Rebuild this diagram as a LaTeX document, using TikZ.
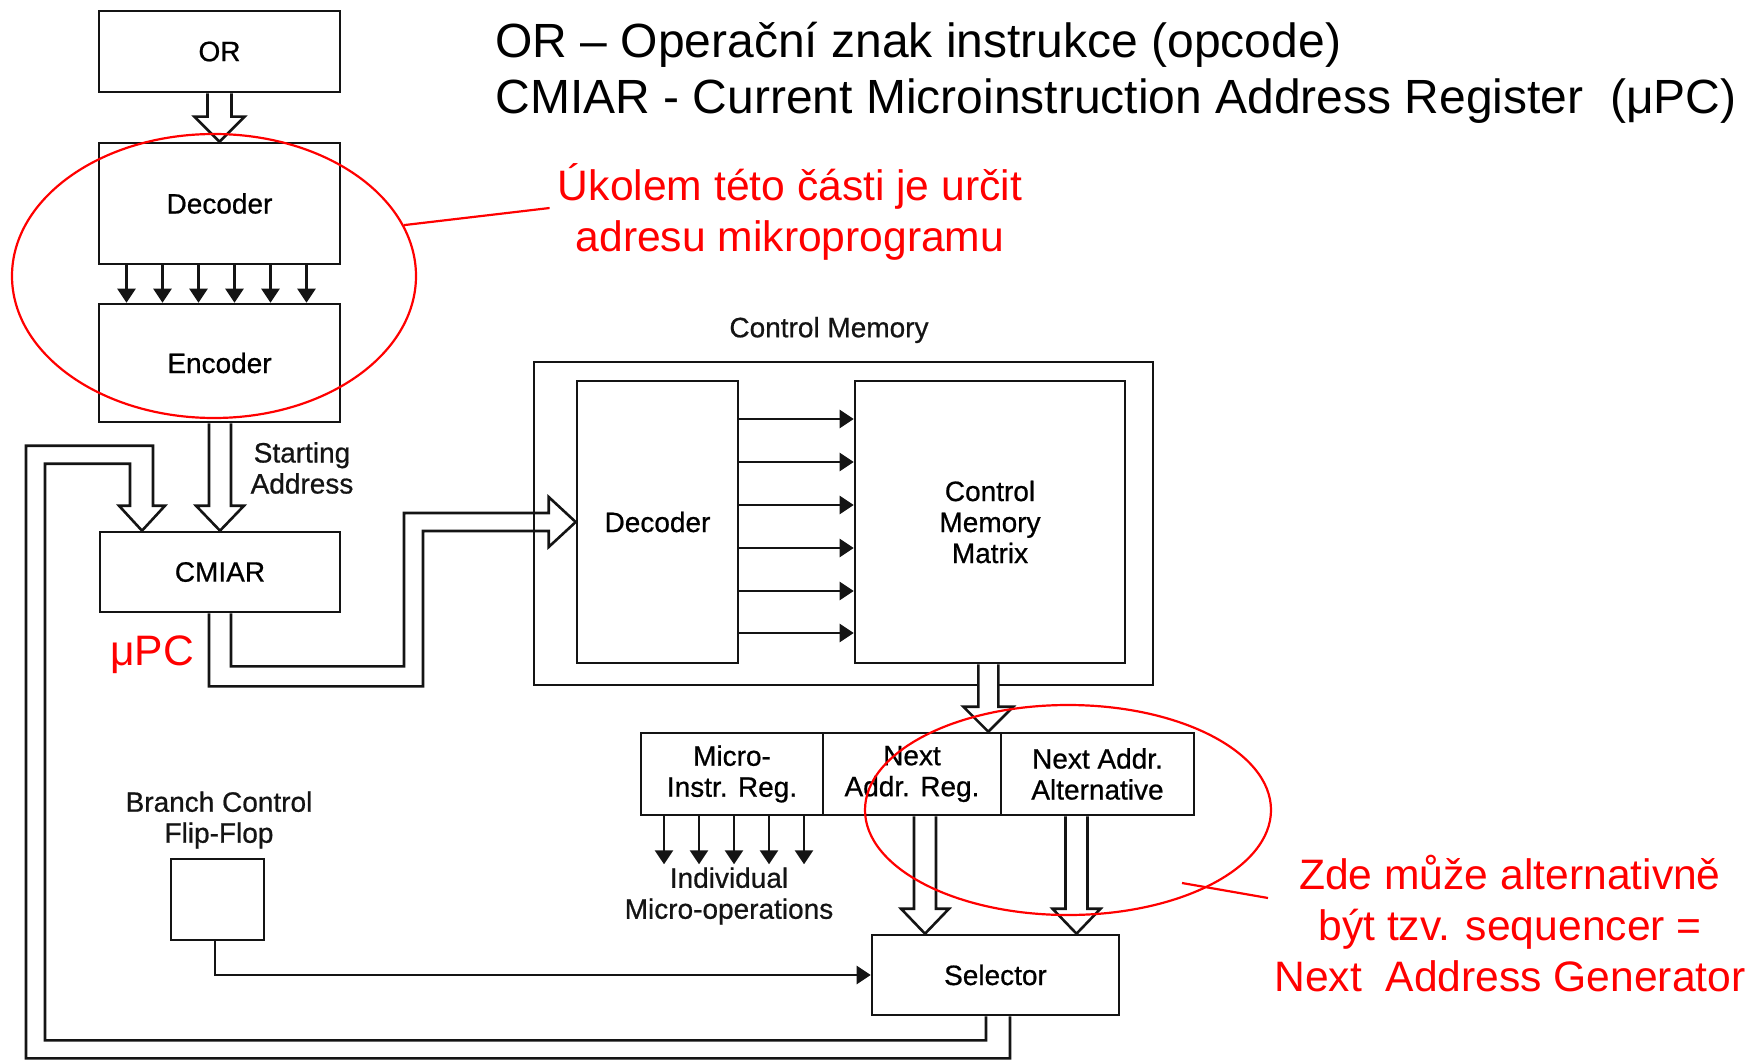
\documentclass[tikz,border=0pt]{standalone}
\usepackage{fontspec}
\setmainfont{Liberation Sans}
\newfontfamily\diagfont[FakeBold=0.7]{Liberation Sans}
\usetikzlibrary{arrows.meta,calc,shapes.geometric}
\definecolor{notered}{RGB}{255,0,0}
\definecolor{ink}{RGB}{20,20,20}
\newcommand{\lblsize}{\diagfont\fontsize{14}{15.5}\selectfont}
\newcommand{\notesize}{\fontsize{21.3}{25.5}\selectfont}
\newcommand{\legendsize}{\fontsize{24}{28}\selectfont}
% wide hollow bus arrow pointing down: #1 start, #2 tip, #3 shaft half width, #4 head half width
\newcommand{\hollowdown}[4]{%
  \draw[hollow] let \p1=(#1), \p2=(#2) in
    (\x2-#3,\y1) -- (\x2-#3,\y2+12.5pt) -- (\x2-#4,\y2+12.5pt) -- (\x2,\y2)
    -- (\x2+#4,\y2+12.5pt) -- (\x2+#3,\y2+12.5pt) -- (\x2+#3,\y1);}
\begin{document}
\begin{tikzpicture}[x=0.5pt,y=-0.5pt,
  box/.style={draw=ink, line width=1.3pt, inner sep=0pt, font=\lblsize, align=center},
  wire/.style={draw=ink, line width=1.3pt},
  arr/.style={wire, -{Triangle[length=7pt,width=9pt]}},
  hollow/.style={draw=ink, line width=1.3pt, line join=miter, fill=white},
  lbl/.style={inner sep=0pt, font=\lblsize, align=center, text=ink},
  note/.style={inner sep=0pt, font=\notesize, align=center, text=notered},
  ring/.style={draw=notered, line width=1.1pt, ellipse, inner sep=0pt},
  callout/.style={draw=notered, line width=1.1pt}]
\useasboundingbox (0,0) rectangle (1754,1059);

% legend
\node[anchor=base west, inner sep=0pt, font=\legendsize] (legendA) at (495,58)
  {OR – Operační znak instrukce (opcode)};
\node[anchor=base west, inner sep=0pt, font=\legendsize] (legendB) at (495,114)
  {CMIAR - Current Microinstruction Address Register\ \ (μPC)};

% instruction path
\node[box, minimum width=120.5pt, minimum height=40.5pt] (opreg) at (219.5,51.5) {OR};
\node[box, minimum width=120.5pt, minimum height=60.5pt] (dec) at (219.5,203.5) {Decoder};
\node[box, minimum width=120.5pt, minimum height=59pt] (enc) at (219.5,363) {Encoder};
\node[box, minimum width=120pt, minimum height=40pt] (cmiar) at (220,572) {CMIAR};
\node[lbl] (lblstart) at (302,468) {Starting\\Address};

% control memory
\node[box, minimum width=309.5pt, minimum height=161.5pt] (cm) at (843.5,523.5) {};
\node[lbl] (lblcm) at (829,330) {Control Memory};
\node[box, minimum width=80.5pt, minimum height=141pt] (cmdec) at (657.5,522) {Decoder};
\node[box, minimum width=135pt, minimum height=141pt] (cmm) at (990,522) {Control\\Memory\\Matrix};

% registers
\node[box, minimum width=91pt, minimum height=41pt] (mir) at (732,774) {Micro-\\Instr. Reg.};
\node[box, minimum width=89pt, minimum height=41pt] (nar) at (912,774) {Next\\Addr. Reg.};
\node[box, minimum width=96.5pt, minimum height=41pt] (naa) at (1097.5,774) {Next Addr.\\Alternative};
\node[lbl] (lblmo) at (729,896) {Individual\\Micro-operations};

% selector and branch flip-flop
\node[box, minimum width=123.5pt, minimum height=40pt] (sel) at (995.5,975) {Selector};
\node[box, minimum width=46.5pt, minimum height=40.5pt] (ff) at (217.5,899.5) {};
\node[lbl] (lblff) at (219,820) {Branch Control\\Flip-Flop};

% fan-out lines
\foreach \dx in {-93,-57,-21,15,51,87}
  \draw[arr] ($(dec.south)+(\dx,0)$) -- ($(enc.north)+(\dx,0)$);
\foreach \dy in {-103,-60,-17,26,69,111}
  \draw[arr] ($(cmdec.east)+(0,\dy)$) -- ($(cmm.west)+(0,\dy)$);
\foreach \dx in {-68,-33,2,37,72}
  \draw[arr] ($(mir.south)+(\dx,0)$) -- ++(0,48);
\draw[arr] ($(ff.south)+(-2.5,0)$) |- (sel.west);

% wide buses
\hollowdown{opreg.south}{dec.north}{6pt}{12.5pt}
\hollowdown{enc.south}{cmiar.north}{5.5pt}{12pt}
\coordinate (cmout) at ($(cmm.south)+(-3,0)$);
\coordinate (regin) at ($(nar.north east)+(-14,0)$);
\hollowdown{cmout}{regin}{5pt}{12.5pt}
\coordinate (narout) at ($(nar.south)+(12.5,0)$);
\coordinate (selinA) at ($(sel.north)+(-70.5,0)$);
\hollowdown{narout}{selinA}{5.5pt}{12pt}
\coordinate (naaout) at ($(naa.south)+(-22,0)$);
\coordinate (selinB) at ($(sel.north)+(81,0)$);
\hollowdown{naaout}{selinB}{5.5pt}{12pt}

% CMIAR to control memory decoder
\draw[hollow, fill=none] ($(cmiar.south)+(-11,0)$) -- ++(0,73) -- ++(214,0)
  |- ($(cmdec.west)+(-27,9)$) -- ($(cmdec.west)+(-27,25)$) -- (cmdec.west)
  -- ($(cmdec.west)+(-27,-25)$) -- ($(cmdec.west)+(-27,-9)$)
  -| ($(cmiar.south)+(184,53)$) -- ($(cmiar.south)+(11,53)$) -- ($(cmiar.south)+(11,0)$);

% selector back to CMIAR
\coordinate (fbtip) at ($(cmiar.north)+(-78,0)$);
\draw[hollow, fill=none] ($(sel.south)+(14.5,0)$) -- ++(0,42)
  -| ($(fbtip)+(-116,-85)$) -| ($(fbtip)+(11,-25)$) -- ($(fbtip)+(23,-25)$) -- (fbtip)
  -- ($(fbtip)+(-23,-25)$) -- ($(fbtip)+(-12,-25)$) |- ($(fbtip)+(-97,-67)$)
  |- ($(sel.south)+(-9.5,24)$) -- ($(sel.south)+(-9.5,0)$);

% annotations
\node[text=notered, inner sep=0pt, font=\notesize, anchor=base] (upc) at (152,665) {μPC};
\node[note] (note1) at (790,212) {Úkolem této části je určit\\adresu mikroprogramu};
\node[note] (note2) at (1510,924) {Zde může alternativně\\být tzv. sequencer =\\Next\ \ Address Generator};
\node[ring, minimum width=202pt, minimum height=142pt] (ring1) at (214,276) {};
\node[ring, minimum width=203pt, minimum height=105pt] (ring2) at (1068,810) {};
\draw[callout] (ring1.15) -- ($(note1.west)+(-8,-4)$);
\draw[callout] ($(ring2.center)+(114,73)$) -- ($(note2.west)+(-6,-26)$);
\end{tikzpicture}
\end{document}
